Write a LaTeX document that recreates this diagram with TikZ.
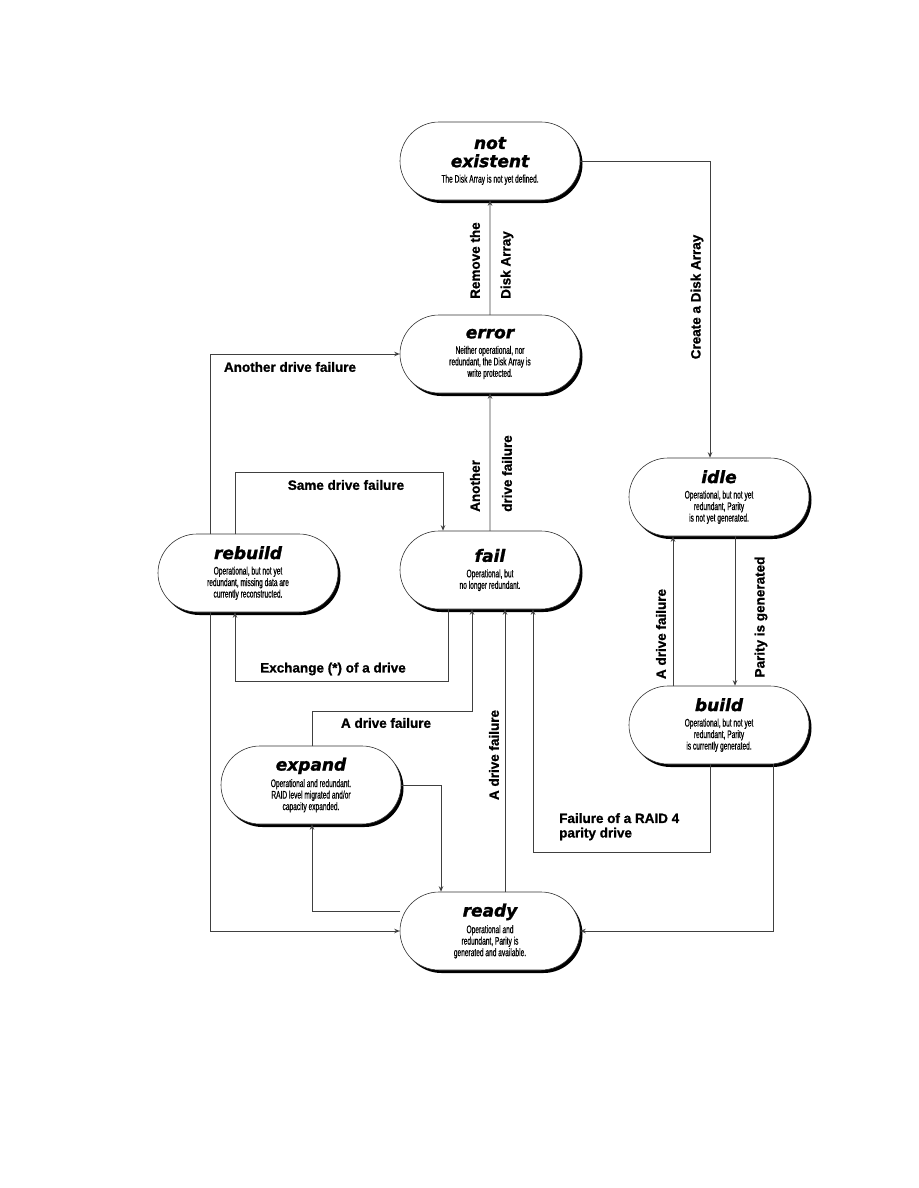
\documentclass[tikz,border=0pt]{standalone}
\usepackage{fontspec}
\setmainfont{Liberation Sans}
\newfontfamily\narrowfont[FakeStretch=0.6,FakeBold=0.6]{Liberation Sans}
\newfontfamily\titlefont[FakeBold=1.4]{DejaVu Sans Bold Oblique}
\newfontfamily\lblfont[FakeBold=1]{Liberation Sans Bold}
\usetikzlibrary{arrows.meta,shapes.misc,shadows}
\newcommand{\sttl}[1]{{\titlefont\fontsize{17}{19}\selectfont #1}}

\begin{document}
\begin{tikzpicture}[x=1pt,y=-1pt,>={Stealth[length=5.5pt,width=4.5pt]},line cap=round,
  state/.style={rounded rectangle,draw=black!80,line width=0.6pt,fill=white,
    minimum width=184pt,minimum height=78pt,align=center,inner sep=2pt,
    font=\narrowfont\fontsize{11}{11.5}\selectfont,
    drop shadow={shadow xshift=2.5pt,shadow yshift=-3pt,fill=black,opacity=1}},
  arr/.style={->,draw=black!75,line width=0.75pt},
  lbl/.style={font=\lblfont\fontsize{13.5}{14.5}\selectfont,inner sep=1pt}]
\useasboundingbox (0,0) rectangle (918,1188);

% states
\node[state] (notexist) at (490,161) {\sttl{not}\\[4pt]\sttl{existent}\\[4pt]The Disk Array is not yet defined.};
\node[state] (error) at (490,354) {\sttl{error}\\[4pt]Neither operational, nor\\redundant, the Disk Array is\\write protected.};
\node[state] (idle) at (719,497) {\sttl{idle}\\[4pt]Operational, but not yet\\redundant, Parity\\is not yet generated.};
\node[state] (rebuild) at (248,573) {\sttl{rebuild}\\[4pt]Operational, but not yet\\redundant, missing data are\\currently reconstructed.};
\node[state] (fail) at (490,570) {\sttl{fail}\\[4pt]Operational, but\\no longer redundant.};
\node[state] (build) at (719,725) {\sttl{build}\\[4pt]Operational, but not yet\\redundant, Parity\\is currently generated.};
\node[state] (expand) at (311,785) {\sttl{expand}\\[4pt]Operational and redundant.\\RAID level migrated and/or\\capacity expanded.};
\node[state] (ready) at (490,931) {\sttl{ready}\\[4pt]Operational and\\redundant, Parity is\\generated and available.};

% transitions
\draw[arr] (notexist.east) -| ([xshift=-9pt]idle.north);
\draw[arr] (error) -- (notexist);
\draw[arr] (fail) -- (error);
\draw[arr] ([xshift=-38pt]rebuild.north) |- (error.west);
\draw[arr] ([xshift=-13pt]rebuild.north) -- ++(0,-61) -| ([xshift=-47pt]fail.north);
\draw[arr] ([xshift=-42pt]fail.south) -- ++(0,72) -| ([xshift=-13pt]rebuild.south);
\draw[arr] ([xshift=1pt]expand.north) -- ++(0,-34) -| ([xshift=-18pt]fail.south);
\draw[arr] ([xshift=15pt]ready.north) -- ([xshift=15pt]fail.south);
\draw[arr] ([xshift=-9pt]build.south) -- ++(0,88) -| ([xshift=43pt]fail.south);
\draw[arr] ([xshift=-46pt]build.north) -- ([xshift=-46pt]idle.south);
\draw[arr] ([xshift=16pt]idle.south) -- ([xshift=16pt]build.north);
\draw[arr] ([xshift=-38pt]rebuild.south) |- (ready.west);
\draw[arr] (expand.east) -| ([xshift=-49pt]ready.north);
\draw[arr] ([yshift=20pt]ready.west) -| ([xshift=1pt]expand.south);
\draw[arr] ([xshift=54pt]build.south) |- (ready.east);

% labels
\node[lbl,rotate=90] (lcreate) at (697,297) {Create a Disk Array};
\node[lbl,rotate=90,anchor=west] (lremove) at (475,300) {Remove the};
\node[lbl,rotate=90,anchor=west] (ldisk) at (507,300) {Disk Array};
\node[lbl,rotate=90,anchor=west] (lanother) at (475,513) {Another};
\node[lbl,rotate=90,anchor=west] (ldrive) at (507,513) {drive failure};
\node[lbl] (lanotherfail) at (290,367) {Another drive failure};
\node[lbl] (lsame) at (346,485) {Same drive failure};
\node[lbl] (lexchange) at (333,669) {Exchange (*) of a drive};
\node[lbl] (lexpfail) at (386,723) {A drive failure};
\node[lbl,rotate=90] (lreadyfail) at (494,755) {A drive failure};
\node[lbl,anchor=north west,align=left] (lraid) at (558,812) {Failure of a RAID 4\\parity drive};
\node[lbl,rotate=90] (lbuildfail) at (661,634) {A drive failure};
\node[lbl,rotate=90] (lparity) at (761,617) {Parity is generated};
\end{tikzpicture}
\end{document}
